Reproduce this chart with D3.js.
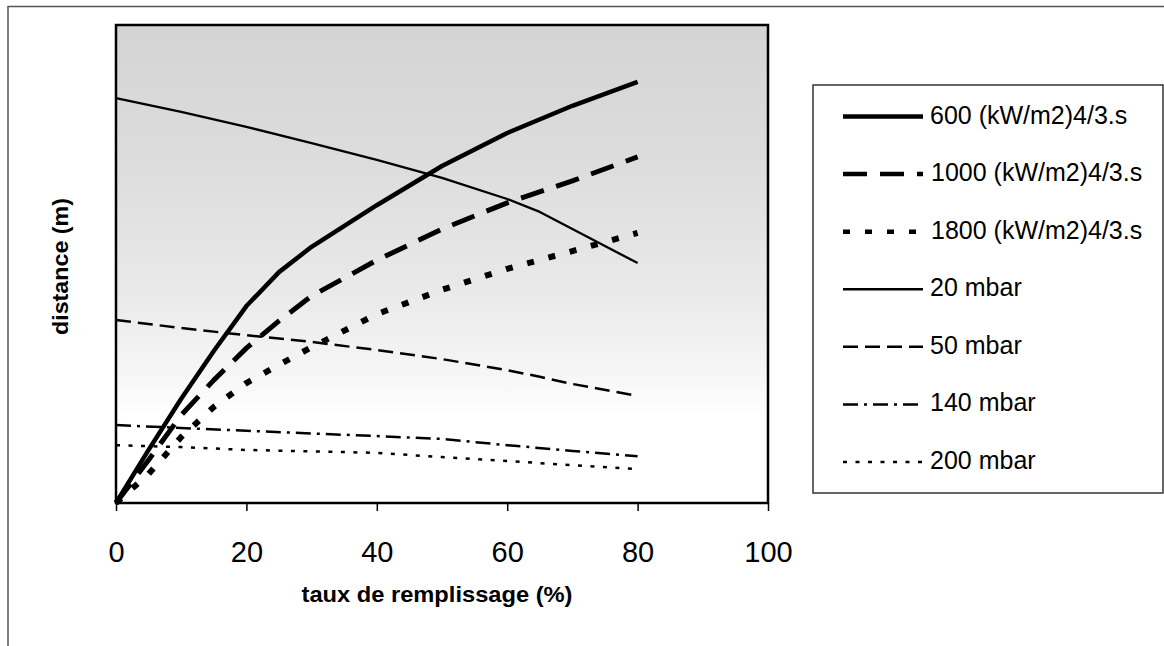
<!DOCTYPE html>
<html>
<head>
<meta charset="utf-8">
<script src="https://cdn.jsdelivr.net/npm/d3@7"></script>
<style>
  html, body { margin: 0; padding: 0; background: #fff; }
  svg { display: block; font-family: "Liberation Sans", Arial, Helvetica, sans-serif; }
</style>
</head>
<body>
<svg id="chart" width="1164" height="646"></svg>
<script>
// Filling ratio (%) at which each curve was computed
const xThermal = [0, 5, 10, 15, 20, 25, 30, 40, 50, 60, 70, 80];
const x20 = [0, 10, 20, 30, 40, 50, 60, 65, 70, 80];
const x50 = [0, 10, 20, 30, 40, 50, 60, 65, 70, 80];
const x140 = [0, 20, 40, 50, 60, 70, 80];
const x200 = [0, 10, 20, 40, 50, 60, 70, 80];

// Distances (relative units, no scale printed on the axis)
const d600 = [0, 11.1, 21.8, 31.8, 41.2, 48.3, 53.6, 62.3, 70.5, 77.4, 83.1, 88.1];
const d1000 = [0, 9.0, 18.4, 25.7, 32.4, 38.1, 43.3, 50.8, 57.3, 62.8, 67.4, 72.4];
const d1800 = [0, 6.1, 13.8, 20.1, 25.1, 28.9, 32.6, 39.5, 44.6, 49.0, 52.7, 56.5];
const d20 = [84.7, 81.8, 78.7, 75.3, 71.8, 68.0, 63.6, 60.9, 57.3, 50.2];
const d50 = [38.3, 36.6, 35.1, 33.7, 32.0, 30.1, 27.8, 26.4, 24.9, 22.4];
const d140 = [16.3, 15.1, 14.0, 13.4, 12.1, 10.9, 9.8];
const d200 = [12.1, 11.7, 11.1, 10.5, 9.6, 8.8, 7.9, 7.1];

const seriesNames = [
  "600 (kW/m2)4/3.s", "1000 (kW/m2)4/3.s", "1800 (kW/m2)4/3.s",
  "20 mbar", "50 mbar", "140 mbar", "200 mbar"
];
const xTicks = [0, 20, 40, 60, 80, 100];

const series = [
  { name: seriesNames[0], xs: xThermal, ys: d600,  width: 4.5, dash: null },
  { name: seriesNames[1], xs: xThermal, ys: d1000, width: 5,   dash: "24,13" },
  { name: seriesNames[2], xs: xThermal, ys: d1800, width: 6,   dash: "7,15" },
  { name: seriesNames[3], xs: x20,  ys: d20,  width: 2.3, dash: null },
  { name: seriesNames[4], xs: x50,  ys: d50,  width: 2.5, dash: "15,7" },
  { name: seriesNames[5], xs: x140, ys: d140, width: 2.5, dash: "15,6,3,6" },
  { name: seriesNames[6], xs: x200, ys: d200, width: 2.5, dash: "4,8.5" }
];

const svg = d3.select("#chart");
const plot = { left: 116, top: 25, right: 768, bottom: 503 };

const x = d3.scaleLinear().domain([0, 100]).range([plot.left, plot.right]);
const y = d3.scaleLinear().domain([0, 100]).range([plot.bottom, plot.top]);

// Page frame
svg.append("path")
  .attr("d", "M8,646 L8,6.5 L1164,6.5")
  .attr("fill", "none").attr("stroke", "#555").attr("stroke-width", 1.5);

// Plot background: grey at the top fading to white
const defs = svg.append("defs");
const grad = defs.append("linearGradient")
  .attr("id", "bg").attr("x1", 0).attr("y1", 0).attr("x2", 0).attr("y2", 1);
[[0, "#d4d4d4"], [0.3, "#dddddd"], [0.55, "#e9e9e9"], [0.72, "#f5f5f5"], [0.82, "#ffffff"], [1, "#ffffff"]]
  .forEach(([o, c]) => grad.append("stop").attr("offset", o).attr("stop-color", c));

svg.append("rect")
  .attr("x", plot.left).attr("y", plot.top)
  .attr("width", plot.right - plot.left).attr("height", plot.bottom - plot.top)
  .attr("fill", "url(#bg)");

// Curves
const line = d3.line()
  .x(d => x(d[0]))
  .y(d => y(d[1]));

const gLines = svg.append("g");
series.forEach(s => {
  const pts = s.xs.map((v, i) => [v, s.ys[i]]);
  gLines.append("path")
    .datum(pts)
    .attr("d", line)
    .attr("fill", "none")
    .attr("stroke", "#000")
    .attr("stroke-width", s.width)
    .attr("stroke-linejoin", "round")
    .attr("stroke-dasharray", s.dash);
});

// Plot border
svg.append("rect")
  .attr("x", plot.left).attr("y", plot.top)
  .attr("width", plot.right - plot.left).attr("height", plot.bottom - plot.top)
  .attr("fill", "none").attr("stroke", "#000").attr("stroke-width", 2.5);

// X axis
const xAxis = svg.append("g")
  .attr("transform", `translate(0,${plot.bottom})`)
  .call(d3.axisBottom(x).tickValues(xTicks).tickSize(8).tickPadding(30).tickFormat(d3.format("d")));
xAxis.select(".domain").remove();
xAxis.selectAll(".tick line").attr("stroke", "#000").attr("stroke-width", 1.5);
xAxis.selectAll(".tick text")
  .attr("fill", "#000")
  .style("font-size", "29px")
  .style("font-family", "'Liberation Sans', Arial, sans-serif");

// Axis titles
svg.append("text")
  .attr("x", (plot.left + plot.right) / 2 - 5)
  .attr("y", 602)
  .attr("text-anchor", "middle")
  .attr("textLength", 271)
  .attr("lengthAdjust", "spacingAndGlyphs")
  .style("font-size", "22px").style("font-weight", "bold")
  .text("taux de remplissage (%)");

svg.append("text")
  .attr("transform", "translate(68,266.5) rotate(-90)")
  .attr("text-anchor", "middle")
  .attr("textLength", 137)
  .attr("lengthAdjust", "spacingAndGlyphs")
  .style("font-size", "22px").style("font-weight", "bold")
  .text("distance (m)");

// Legend
const legend = svg.append("g");
legend.append("rect")
  .attr("x", 813).attr("y", 85).attr("width", 350).attr("height", 408)
  .attr("fill", "#fff").attr("stroke", "#333").attr("stroke-width", 1.5);

const legendRow = d3.scaleLinear().domain([0, 6]).range([123.5, 469]);
series.forEach((s, i) => {
  const base = legendRow(i);
  legend.append("line")
    .attr("x1", 843).attr("x2", 923)
    .attr("y1", base - 7).attr("y2", base - 7)
    .attr("stroke", "#000")
    .attr("stroke-width", Math.min(s.width, 4.5))
    .attr("stroke-dasharray", s.dash);
  legend.append("text")
    .attr("x", i === 1 || i === 2 ? 931 : 930)
    .attr("y", base)
    .style("font-size", "25px")
    .text(s.name);
});
</script>
</body>
</html>
